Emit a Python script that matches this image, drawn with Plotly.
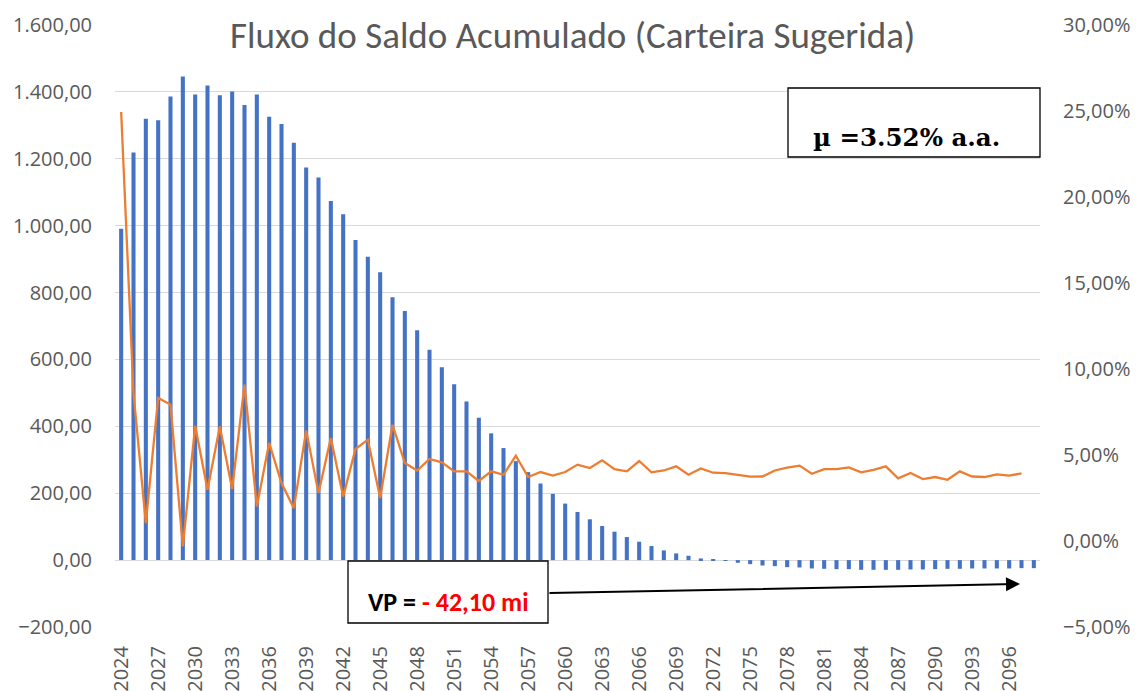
import plotly.graph_objects as go

years = list(range(2024, 2099))

saldo = [
    991, 1219, 1320, 1315, 1386, 1446, 1392, 1419, 1390, 1401,
    1361, 1392, 1326, 1304, 1248, 1174, 1144, 1074, 1034, 957,
    907, 861, 786, 745, 687, 629, 577, 526, 474, 426,
    379, 335, 296, 263, 229, 198, 169, 144, 122, 102,
    85, 69, 55, 42, 29, 20, 13, 5, 1, -2,
    -8, -12, -16, -18, -21, -22, -25, -26, -27, -27,
    -29, -29, -29, -29, -28, -28, -27, -26, -26, -25,
    -25, -25, -25, -24, -24,
]

taxa_pct = [
    24.94, 8.6, 1.04, 8.32, 7.93, -0.32, 6.70, 2.98, 6.66, 3.02,
    9.09, 2.01, 5.70, 3.37, 1.91, 6.43, 2.79, 5.99, 2.59, 5.35,
    5.89, 2.50, 6.76, 4.53, 4.10, 4.77, 4.57, 4.05, 4.05, 3.49,
    4.05, 3.85, 4.96, 3.72, 4.01, 3.80, 4.01, 4.44, 4.24, 4.69,
    4.18, 4.05, 4.65, 3.99, 4.10, 4.34, 3.85, 4.22, 3.97, 3.95,
    3.85, 3.74, 3.75, 4.10, 4.26, 4.38, 3.91, 4.18, 4.18, 4.28,
    3.99, 4.14, 4.34, 3.64, 3.95, 3.60, 3.72, 3.56, 4.05, 3.75,
    3.72, 3.87, 3.80, 3.93, None,
]
taxa = [None if v is None else v / 100 for v in taxa_pct]

x_ticks = list(range(2024, 2099, 3))
left_ticks = [-200, 0, 200, 400, 600, 800, 1000, 1200, 1400, 1600]
right_ticks = [-0.05, 0, 0.05, 0.10, 0.15, 0.20, 0.25, 0.30]

title_text = "Fluxo do Saldo Acumulado (Carteira Sugerida)"
mu_text = "<b>µ =3.52% a.a.</b>"
vp_text = "<b>VP = <span style='color:#FF0000'>- 42,10 mi</span></b>"

FONT = "Carlito, Calibri, Lato, sans-serif"
TICKFONT = "Open Sans, Noto Sans, sans-serif"
GRAY = "#595959"

fig = go.Figure()
fig.add_trace(go.Bar(x=years, y=saldo, marker_color="#4472C4", width=0.33,
                     marker_line_width=0, yaxis="y", name="Saldo"))
fig.add_trace(go.Scatter(x=years, y=taxa, mode="lines",
                         line=dict(color="#ED7D31", width=2.3),
                         yaxis="y2", name="Taxa"))

L, R, T, B = 115, 98, 25, 64
W, H = 1138, 691
pw, ph = W - L - R, H - T - B

def px(x):
    return (x - L) / pw

def py(y):
    return (H - B - y) / ph

fig.update_layout(
    width=W, height=H,
    margin=dict(l=L, r=R, t=T, b=B, autoexpand=False),
    paper_bgcolor="white", plot_bgcolor="rgba(0,0,0,0)",
    separators=",.",
    showlegend=False,
    font=dict(family=TICKFONT, color=GRAY, size=20),
    xaxis=dict(range=[2023.5, 2098.5], tickvals=x_ticks,
               ticktext=[str(v) for v in x_ticks], tickangle=-90,
               showgrid=False, zeroline=False, showline=False,
               ticks="", ticklabelstandoff=14, automargin=False,
               tickfont=dict(size=20, color=GRAY, family=TICKFONT)),
    yaxis=dict(range=[-200, 1600], tickvals=left_ticks, tickformat=",.2f",
               showgrid=True, gridcolor="#D9D9D9", gridwidth=1.2,
               zeroline=False, showline=False, ticks="",
               ticklabelstandoff=22, automargin=False,
               tickfont=dict(size=20, color=GRAY, family=TICKFONT)),
    yaxis2=dict(range=[-0.05, 0.30], tickvals=right_ticks, tickformat=".2%",
                overlaying="y", side="right", showgrid=False,
                zeroline=False, showline=False, ticks="",
                ticklabelstandoff=22, automargin=False,
                tickfont=dict(size=20, color=GRAY, family=TICKFONT)),
)

fig.add_annotation(text=title_text, xref="paper", yref="paper",
                   x=px(572), y=py(36), showarrow=False,
                   font=dict(size=37, color=GRAY, family=FONT),
                   bgcolor="white",
                   xanchor="center", yanchor="middle")

# mu box
fig.add_shape(type="rect", xref="paper", yref="paper",
              x0=px(788), x1=px(1040), y0=py(157), y1=py(88),
              line=dict(color="black", width=1.3), fillcolor="white",
              layer="above")
fig.add_annotation(text=mu_text, xref="paper", yref="paper",
                   x=px(906), y=py(137), showarrow=False,
                   font=dict(size=24.5, color="black",
                             family="DejaVu Serif, Liberation Serif, serif"),
                   xanchor="center", yanchor="middle")

# VP box
fig.add_shape(type="rect", xref="paper", yref="paper",
              x0=px(348), x1=px(548), y0=py(623), y1=py(561),
              line=dict(color="black", width=1.3), fillcolor="white",
              layer="above")
fig.add_annotation(text=vp_text, xref="paper", yref="paper",
                   x=px(448), y=py(602), showarrow=False,
                   font=dict(size=26, color="black", family=FONT),
                   xanchor="center", yanchor="middle")

# arrow
fig.add_annotation(text="", xref="paper", yref="paper",
                   x=px(1020), y=py(584), ax=548 - 1020, ay=593 - 584,
                   axref="pixel", ayref="pixel", showarrow=True,
                   arrowhead=2, arrowsize=1.4, arrowwidth=2,
                   arrowcolor="black")

fig.write_html("out.html", config={"displayModeBar": False},
               post_script="document.body.style.margin='0';")
